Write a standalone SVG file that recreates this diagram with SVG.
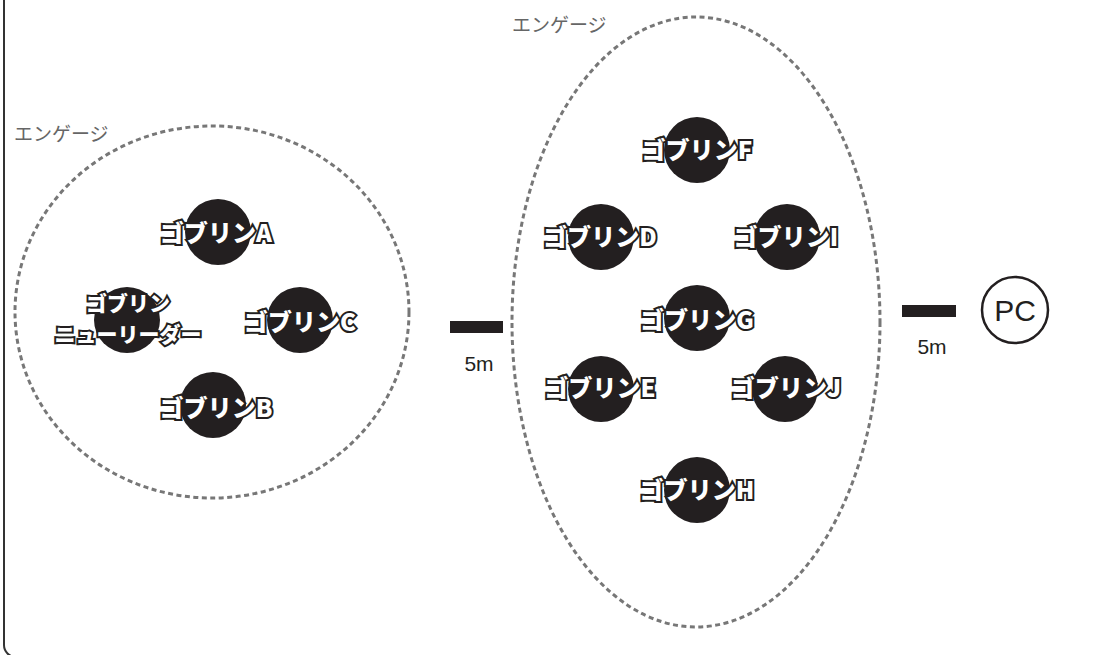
<svg xmlns="http://www.w3.org/2000/svg" width="1093" height="655" viewBox="0 0 1093 655">
<style>
.frame{fill:none;stroke:#333;stroke-width:2}
.zone{fill:none;stroke:#777;stroke-width:3;stroke-dasharray:5 3.5}
.zlabel{font-family:"Noto Sans CJK JP",sans-serif;font-size:19px;fill:#666}
.gob{fill:#231f20}
.gname{font-family:"Noto Sans CJK JP",sans-serif;font-weight:900;font-size:24px;fill:#fff;stroke:#231f20;stroke-width:4;stroke-linejoin:miter;paint-order:stroke;text-anchor:middle}
.lead{font-size:21px}
.bar{fill:#231f20}
.dist{font-family:"Liberation Sans",Arial,sans-serif;font-size:21px;fill:#231f20;text-anchor:middle}
.pc{fill:#fff;stroke:#231f20;stroke-width:2.5}
.pct{font-family:"Liberation Sans",Arial,sans-serif;font-size:30px;fill:#231f20;text-anchor:middle}
</style>
<rect width="1093" height="655" fill="#fff"/>
<rect class="frame" x="4" y="-20" width="1200" height="677" rx="12"/>
<g id="engage-left">
<ellipse class="zone" cx="212" cy="312" rx="197" ry="186"/>
<text class="zlabel" x="14" y="141">エンゲージ</text>
</g>
<g id="engage-right">
<ellipse class="zone" cx="696" cy="322" rx="184" ry="305"/>
<text class="zlabel" x="512" y="32">エンゲージ</text>
</g>
<g id="goblin-a"><circle class="gob" cx="218" cy="232" r="33"/><text class="gname" x="216" y="242">ゴブリンA</text></g>
<g id="goblin-leader"><circle class="gob" cx="127" cy="320" r="33"/><text class="gname lead" x="128" y="311">ゴブリン</text><text class="gname lead" x="128" y="342">ニューリーダー</text></g>
<g id="goblin-c"><circle class="gob" cx="300" cy="320" r="33"/><text class="gname" x="300" y="331">ゴブリンC</text></g>
<g id="goblin-b"><circle class="gob" cx="213" cy="405" r="33"/><text class="gname" x="216" y="417">ゴブリンB</text></g>
<g id="goblin-f"><circle class="gob" cx="697" cy="150" r="33"/><text class="gname" x="697" y="159">ゴブリンF</text></g>
<g id="goblin-d"><circle class="gob" cx="601" cy="237" r="33"/><text class="gname" x="600" y="246">ゴブリンD</text></g>
<g id="goblin-i"><circle class="gob" cx="787" cy="237" r="33"/><text class="gname" x="786" y="246">ゴブリンI</text></g>
<g id="goblin-g"><circle class="gob" cx="697" cy="318" r="33"/><text class="gname" x="697" y="329">ゴブリンG</text></g>
<g id="goblin-e"><circle class="gob" cx="601" cy="389" r="33"/><text class="gname" x="600" y="397">ゴブリンE</text></g>
<g id="goblin-j"><circle class="gob" cx="785" cy="389" r="33"/><text class="gname" x="786" y="397">ゴブリンJ</text></g>
<g id="goblin-h"><circle class="gob" cx="697" cy="490" r="33"/><text class="gname" x="697" y="499">ゴブリンH</text></g>
<g id="pc"><circle class="pc" cx="1015" cy="310" r="33"/><text class="pct" x="1015" y="321">PC</text></g>
<g id="connectors">
<g id="dist-left"><rect class="bar" x="450" y="321" width="53" height="12"/><text class="dist" x="479" y="371">5m</text></g>
<g id="dist-right"><rect class="bar" x="902" y="305" width="54" height="12"/><text class="dist" x="932" y="354">5m</text></g>
</g>
</svg>
